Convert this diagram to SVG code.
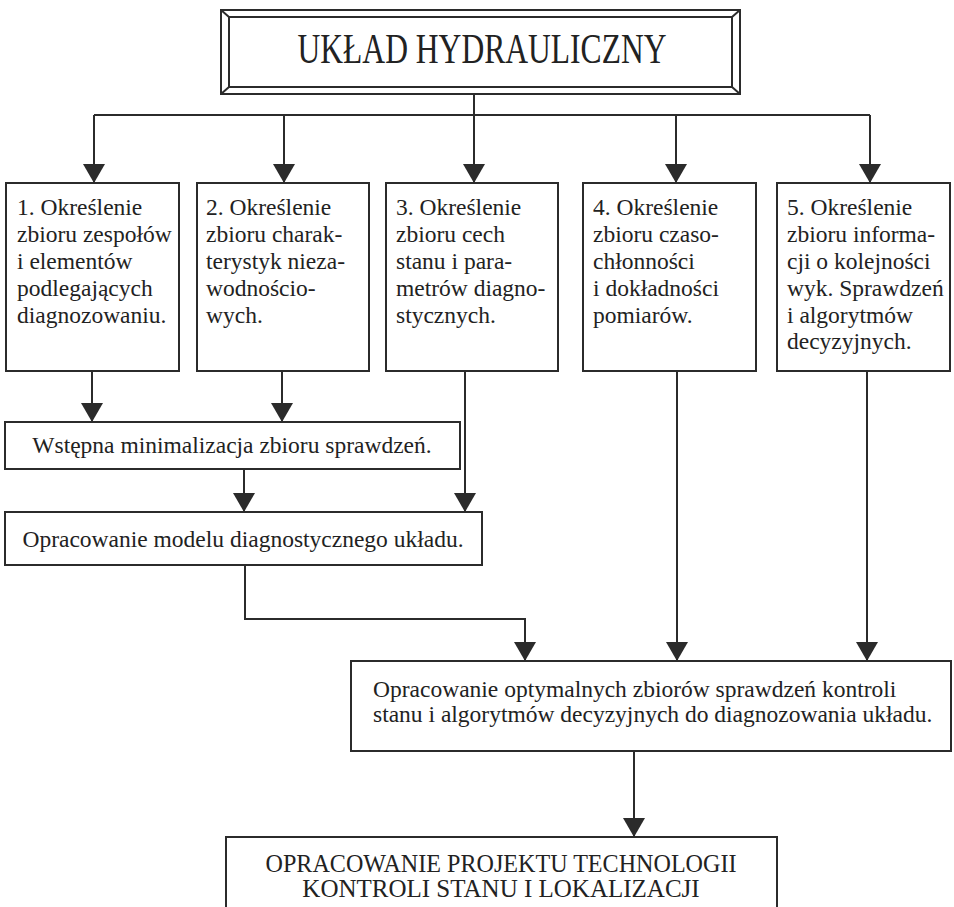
<svg xmlns="http://www.w3.org/2000/svg" width="954" height="907" viewBox="0 0 954 907">
<style>
.box{fill:#fff;stroke:#2b2b2b;stroke-width:2}
.ln{fill:none;stroke:#2b2b2b;stroke-width:2}
.t{font-family:"Liberation Serif","Times New Roman",serif;font-size:23.5px;fill:#222}
.c{text-anchor:middle}
</style>
<defs>
<marker id="ah" markerUnits="userSpaceOnUse" markerWidth="20" markerHeight="22" refX="19" refY="11" orient="auto">
<path d="M0,0 L19,11 L0,22 z" fill="#2b2b2b"/>
</marker>
</defs>
<rect width="954" height="907" fill="#fff"/>

<g id="connectors">
<path class="ln" d="M474,94 V183" marker-end="url(#ah)"/>
<path class="ln" d="M94,115 H870"/>
<path class="ln" d="M94,115 V183" marker-end="url(#ah)"/>
<path class="ln" d="M284,115 V183" marker-end="url(#ah)"/>
<path class="ln" d="M676,115 V183" marker-end="url(#ah)"/>
<path class="ln" d="M870,115 V183" marker-end="url(#ah)"/>
<path class="ln" d="M92,371 V422" marker-end="url(#ah)"/>
<path class="ln" d="M282,371 V422" marker-end="url(#ah)"/>
<path class="ln" d="M465,371 V512" marker-end="url(#ah)"/>
<path class="ln" d="M244,469 V512" marker-end="url(#ah)"/>
<path class="ln" d="M245,565 V619 H525 V661" marker-end="url(#ah)"/>
<path class="ln" d="M677,371 V661" marker-end="url(#ah)"/>
<path class="ln" d="M867,371 V661" marker-end="url(#ah)"/>
<path class="ln" d="M634,751 V837" marker-end="url(#ah)"/>
</g>

<g id="title">
<rect class="box" x="221" y="10" width="519" height="84"/>
<rect class="box" x="229" y="17" width="503" height="70"/>
<path class="ln" stroke-width="1.5" d="M221,10 L229,17 M740,10 L732,17 M221,94 L229,87 M740,94 L732,87"/>
<text class="t c" x="482" y="63" style="font-size:42px" textLength="369" lengthAdjust="spacingAndGlyphs">UKŁAD HYDRAULICZNY</text>
</g>

<g id="box1">
<rect class="box" x="6" y="183" width="173" height="188"/>
<text class="t"><tspan x="17" y="215">1. Określenie</tspan><tspan x="17" y="242">zbioru zespołów</tspan><tspan x="17" y="269">i elementów</tspan><tspan x="17" y="296">podlegających</tspan><tspan x="17" y="323">diagnozowaniu.</tspan></text>
</g>

<g id="box2">
<rect class="box" x="197" y="183" width="172" height="188"/>
<text class="t"><tspan x="206" y="215">2. Określenie</tspan><tspan x="206" y="242">zbioru charak-</tspan><tspan x="206" y="269">terystyk nieza-</tspan><tspan x="206" y="296">wodnościo-</tspan><tspan x="206" y="323">wych.</tspan></text>
</g>

<g id="box3">
<rect class="box" x="386" y="183" width="172" height="188"/>
<text class="t"><tspan x="396" y="215">3. Określenie</tspan><tspan x="396" y="242">zbioru cech</tspan><tspan x="396" y="269">stanu i para-</tspan><tspan x="396" y="296">metrów diagno-</tspan><tspan x="396" y="323">stycznych.</tspan></text>
</g>

<g id="box4">
<rect class="box" x="583" y="183" width="173" height="188"/>
<text class="t"><tspan x="593" y="215">4. Określenie</tspan><tspan x="593" y="242">zbioru czaso-</tspan><tspan x="593" y="269">chłonności</tspan><tspan x="593" y="296">i dokładności</tspan><tspan x="593" y="323">pomiarów.</tspan></text>
</g>

<g id="box5">
<rect class="box" x="777" y="183" width="173" height="188"/>
<text class="t"><tspan x="787" y="215">5. Określenie</tspan><tspan x="787" y="242">zbioru informa-</tspan><tspan x="787" y="269">cji o kolejności</tspan><tspan x="787" y="296">wyk. Sprawdzeń</tspan><tspan x="787" y="323">i algorytmów</tspan><tspan x="787" y="349">decyzyjnych.</tspan></text>
</g>

<g id="wstepna">
<rect class="box" x="5" y="422" width="455" height="47"/>
<text class="t c" x="232" y="453">Wstępna minimalizacja zbioru sprawdzeń.</text>
</g>

<g id="model">
<rect class="box" x="5" y="512" width="477" height="53"/>
<text class="t c" x="243" y="547">Opracowanie modelu diagnostycznego układu.</text>
</g>

<g id="optimal">
<rect class="box" x="351" y="661" width="600" height="90"/>
<text class="t"><tspan x="373" y="697">Opracowanie optymalnych zbiorów sprawdzeń kontroli</tspan><tspan x="373" y="722">stanu i algorytmów decyzyjnych do diagnozowania układu.</tspan></text>
</g>

<g id="project">
<rect class="box" x="226" y="837" width="551" height="90"/>
<text class="t c" style="font-size:25px"><tspan x="501" y="872" textLength="471" lengthAdjust="spacingAndGlyphs">OPRACOWANIE PROJEKTU TECHNOLOGII</tspan><tspan x="501" y="897">KONTROLI STANU I LOKALIZACJI</tspan></text>
</g>
</svg>
